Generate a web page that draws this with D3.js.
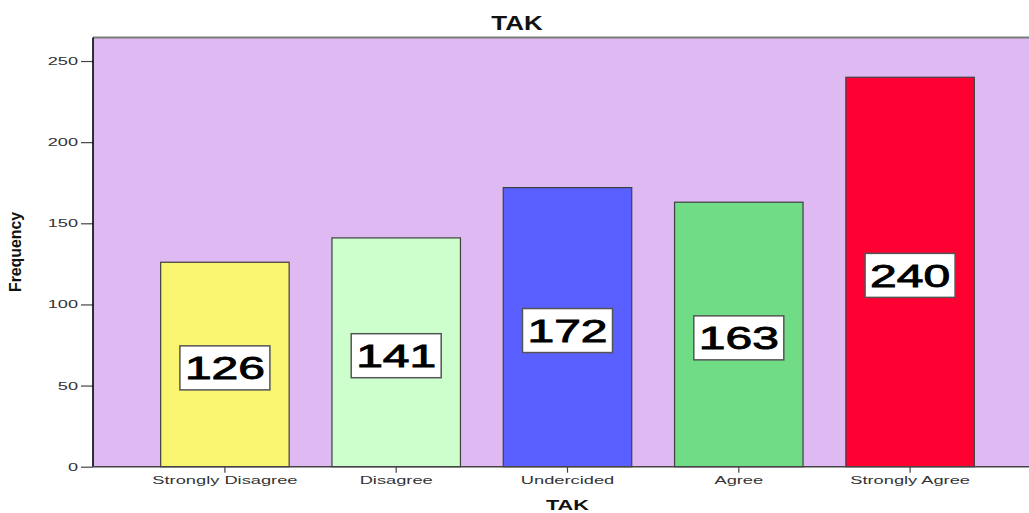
<!DOCTYPE html>
<html>
<head>
<meta charset="utf-8">
<script src="https://cdn.jsdelivr.net/npm/d3@7"></script>
<style>
  html, body { margin: 0; padding: 0; background: #ffffff; }
  svg { display: block; font-family: "Liberation Sans", Arial, sans-serif; }
</style>
</head>
<body>
<svg id="chart" width="1029" height="513"></svg>
<script>
// Frequency counts for the TAK item
const categories = ["Strongly Disagree", "Disagree", "Undercided", "Agree", "Strongly Agree"];
const frequencies = [126, 141, 172, 163, 240];
const barColors = ["#faf570", "#ccffcc", "#5a5fff", "#70dd86", "#ff0033"];
const yTicks = [0, 50, 100, 150, 200, 250];
const chartTitle = "TAK";
const xTitle = "TAK";
const yTitle = "Frequency";

const svg = d3.select("#chart");
const W = 1029, H = 513;

const plot = { left: 93, right: 1042, top: 37.5, bottom: 466.7 };

const x = d3.scaleBand()
  .domain(categories)
  .range([plot.left, plot.right])
  .paddingInner(0.25)
  .paddingOuter(0.395);

const y = d3.scaleLinear()
  .domain([0, 264.5])
  .range([plot.bottom, plot.top]);

// Stretch text horizontally by a factor, keeping its anchor
function stretch(sel, k) {
  sel.each(function () {
    const len = this.getComputedTextLength();
    d3.select(this)
      .attr("textLength", len * k)
      .attr("lengthAdjust", "spacingAndGlyphs");
  });
}

// Plot background
svg.append("rect")
  .attr("x", plot.left)
  .attr("y", plot.top)
  .attr("width", plot.right - plot.left)
  .attr("height", plot.bottom - plot.top)
  .attr("fill", "#dfb9f2");

// Frame: top edge
svg.append("line")
  .attr("x1", plot.left).attr("x2", W)
  .attr("y1", plot.top).attr("y2", plot.top)
  .attr("stroke", "#7a7a7a").attr("stroke-width", 2);

// Bars
svg.append("g")
  .selectAll("rect")
  .data(categories)
  .join("rect")
  .attr("x", d => x(d))
  .attr("y", (d, i) => y(frequencies[i]))
  .attr("width", x.bandwidth())
  .attr("height", (d, i) => y(0) - y(frequencies[i]))
  .attr("fill", (d, i) => barColors[i])
  .attr("stroke", "#3f3f3f")
  .attr("stroke-width", 1.2);

// Value labels in white boxes
const labels = svg.append("g")
  .selectAll("g")
  .data(categories)
  .join("g")
  .attr("transform", (d, i) => {
    const cx = x(d) + x.bandwidth() / 2;
    const cy = (y(frequencies[i]) + y(0)) / 2 + 3.4;
    return `translate(${cx},${cy})`;
  });

labels.append("rect")
  .attr("x", -45).attr("y", -22)
  .attr("width", 90).attr("height", 44)
  .attr("fill", "#ffffff")
  .attr("stroke", "#555555")
  .attr("stroke-width", 1.5);

labels.append("text")
  .attr("text-anchor", "middle")
  .attr("y", 11.5)
  .attr("font-size", 32)
  .attr("fill", "#000000")
  .attr("stroke", "#000000")
  .attr("stroke-width", 0.9)
  .text((d, i) => frequencies[i])
  .call(stretch, 1.5);

// Y axis
const yAxis = svg.append("g")
  .attr("transform", `translate(${plot.left},0)`)
  .call(d3.axisLeft(y).tickValues(yTicks).tickSize(12).tickPadding(3).tickSizeOuter(0));
yAxis.select(".domain").remove();
yAxis.selectAll(".tick line").attr("stroke", "#444").attr("stroke-width", 1.2);
yAxis.selectAll(".tick text")
  .attr("font-size", 11)
  .attr("fill", "#333")
  .attr("font-family", "Liberation Sans, Arial, sans-serif")
  .call(stretch, 1.65);

svg.append("line")
  .attr("x1", plot.left).attr("x2", plot.left)
  .attr("y1", plot.top).attr("y2", plot.bottom)
  .attr("stroke", "#000").attr("stroke-width", 1.6);

// X axis
const xAxis = svg.append("g")
  .attr("transform", `translate(0,${plot.bottom})`)
  .call(d3.axisBottom(x).tickSize(6).tickPadding(4).tickSizeOuter(0));
xAxis.select(".domain").remove();
xAxis.selectAll(".tick line").attr("stroke", "#444").attr("stroke-width", 1.2);
xAxis.selectAll(".tick text")
  .attr("font-size", 11)
  .attr("fill", "#333")
  .attr("font-family", "Liberation Sans, Arial, sans-serif")
  .call(stretch, 1.66);

svg.append("line")
  .attr("x1", plot.left).attr("x2", W)
  .attr("y1", plot.bottom).attr("y2", plot.bottom)
  .attr("stroke", "#444").attr("stroke-width", 1.4);

// Titles
svg.append("text")
  .attr("x", 517).attr("y", 30)
  .attr("text-anchor", "middle")
  .attr("font-size", 19.5)
  .attr("font-weight", "bold")
  .attr("fill", "#111")
  .text(chartTitle)
  .call(stretch, 1.33);

svg.append("text")
  .attr("x", x(categories[2]) + x.bandwidth() / 2).attr("y", 510)
  .attr("text-anchor", "middle")
  .attr("font-size", 15)
  .attr("font-weight", "bold")
  .attr("fill", "#111")
  .text(xTitle)
  .call(stretch, 1.45);

svg.append("text")
  .attr("transform", "translate(21,252) rotate(-90)")
  .attr("text-anchor", "middle")
  .attr("font-size", 16)
  .attr("font-weight", "bold")
  .attr("fill", "#111")
  .text(yTitle)
  .attr("textLength", 80)
  .attr("lengthAdjust", "spacingAndGlyphs");
</script>
</body>
</html>
